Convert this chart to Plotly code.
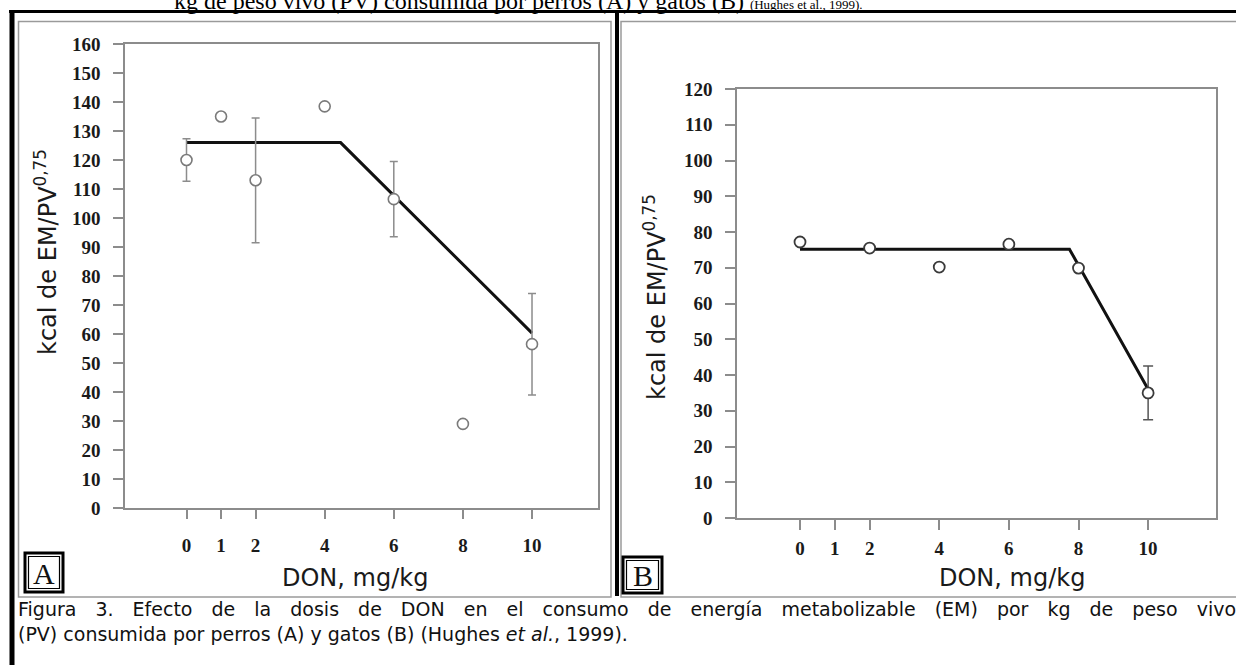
import plotly.graph_objects as go

# ---------------- data ----------------
# Panel A: dogs (perros)
dose_a = [0, 1, 2, 4, 6, 8, 10]
kcal_a = [120, 135, 113, 138.5, 106.5, 29, 56.5]
err_a = [7.3, None, 21.5, None, 13, None, 17.5]
fit_x_a = [0, 4.46, 10]
fit_y_a = [126, 126, 60.3]

# Panel B: cats (gatos)
dose_b = [0, 2, 4, 6, 8, 10]
kcal_b = [77.2, 75.5, 70.2, 76.6, 69.9, 35]
err_b = [None, None, None, None, None, 7.5]
fit_x_b = [0, 7.74, 10]
fit_y_b = [75.2, 75.2, 36]

x_ticks = [0, 1, 2, 4, 6, 8, 10]
y_ticks_a = list(range(0, 161, 10))
y_ticks_b = list(range(0, 121, 10))

x_title = "DON, mg/kg"
y_title = "kcal de EM/PV<sup>0,75</sup>"
top_text = ("kg de peso vivo (PV) consumida por perros (A) y gatos (B) "
            "<span style='font-size:13px'>(Hughes et al., 1999).</span>")
caption_1 = ("Figura 3. Efecto de la dosis de DON en el consumo de energía "
             "metabolizable (EM) por kg de peso vivo")
caption_2 = "(PV) consumida por perros (A) y gatos (B) (Hughes <i>et al.</i>, 1999)."

# ---------------- layout helpers ----------------
W, H = 1236, 665


def px(x):
    return x / W


def py(y):
    return 1 - y / H


AX_GRAY = "#8c8c8c"
TICK_FONT = dict(family="Liberation Serif", size=19, color="#1a1a1a", weight="bold")
TITLE_FONT = dict(family="DejaVu Sans", size=24, color="#1a1a1a")

fig = go.Figure()

# Panel A
fig.add_trace(go.Scatter(x=fit_x_a, y=fit_y_a, mode="lines",
                         line=dict(color="#111111", width=3),
                         xaxis="x", yaxis="y", showlegend=False, hoverinfo="skip"))
fig.add_trace(go.Scatter(x=dose_a, y=kcal_a, mode="markers",
                         marker=dict(symbol="circle", size=11, color="white",
                                     line=dict(color="#7a7a7a", width=1.6)),
                         error_y=dict(type="data", array=err_a, visible=True,
                                      color=AX_GRAY, thickness=1.5, width=4),
                         xaxis="x", yaxis="y", showlegend=False))

# Panel B
fig.add_trace(go.Scatter(x=fit_x_b, y=fit_y_b, mode="lines",
                         line=dict(color="#111111", width=3),
                         xaxis="x2", yaxis="y2", showlegend=False, hoverinfo="skip"))
fig.add_trace(go.Scatter(x=dose_b, y=kcal_b, mode="markers",
                         marker=dict(symbol="circle", size=11, color="white",
                                     line=dict(color="#3a3a3a", width=1.8)),
                         error_y=dict(type="data", array=err_b, visible=True,
                                      color="#555555", thickness=1.5, width=5),
                         xaxis="x2", yaxis="y2", showlegend=False))

common_x = dict(tickmode="array", tickvals=x_ticks, ticktext=[str(v) for v in x_ticks],
                showline=True, linecolor=AX_GRAY, linewidth=1.5, mirror=True,
                ticks="outside", tickcolor=AX_GRAY, tickwidth=1.5,
                showgrid=False, zeroline=False, tickfont=TICK_FONT, fixedrange=True)
common_y = dict(showline=True, linecolor=AX_GRAY, linewidth=1.5, mirror=True,
                ticks="outside", tickcolor=AX_GRAY, tickwidth=1.5, ticklen=10,
                showgrid=False, zeroline=False, tickfont=TICK_FONT,
                ticklabelstandoff=9, fixedrange=True)

fig.update_layout(
    width=W, height=H,
    margin=dict(l=0, r=0, t=0, b=0, pad=0, autoexpand=False),
    paper_bgcolor="white", plot_bgcolor="white",
    showlegend=False,
    xaxis=dict(common_x, domain=[px(125), px(598)], range=[-1.78, 11.91],
               anchor="y", ticklen=9, ticklabelstandoff=10),
    yaxis=dict(common_y, domain=[py(508), py(44)], range=[0, 160],
               tickvals=y_ticks_a, anchor="x"),
    xaxis2=dict(common_x, domain=[px(737), px(1216)], range=[-1.81, 11.95],
                anchor="y2", ticklen=10, ticklabelstandoff=2),
    yaxis2=dict(common_y, domain=[py(518), py(89)], range=[0, 120],
                tickvals=y_ticks_b, anchor="x2"),
)

# ---------------- frames / decoration ----------------
shapes = []
shapes.append(dict(type="rect", xref="paper", yref="paper",
                   x0=px(18.5), x1=px(611), y0=py(597), y1=py(21.5),
                   line=dict(color="#9a9a9a", width=1.5), layer="below"))
shapes.append(dict(type="rect", xref="paper", yref="paper",
                   x0=px(621), x1=px(1245), y0=py(597), y1=py(21.5),
                   line=dict(color="#9a9a9a", width=1.5), layer="below"))
shapes.append(dict(type="line", xref="paper", yref="paper",
                   x0=px(9), x1=px(1240), y0=py(11.5), y1=py(11.5),
                   line=dict(color="black", width=3)))
shapes.append(dict(type="line", xref="paper", yref="paper",
                   x0=px(12), x1=px(12), y0=py(10), y1=py(670),
                   line=dict(color="black", width=5)))
shapes.append(dict(type="line", xref="paper", yref="paper",
                   x0=px(617), x1=px(617), y0=py(11), y1=py(596),
                   line=dict(color="black", width=4)))
for (bx0, by0, bx1, by1) in [(25, 553, 63, 592), (623, 557, 662, 593)]:
    shapes.append(dict(type="rect", xref="paper", yref="paper",
                       x0=px(bx0), x1=px(bx1), y0=py(by1), y1=py(by0),
                       line=dict(color="black", width=3), fillcolor="white"))
    shapes.append(dict(type="rect", xref="paper", yref="paper",
                       x0=px(bx0 + 3.5), x1=px(bx1 - 3.5), y0=py(by1 - 3.5), y1=py(by0 + 3.5),
                       line=dict(color="black", width=1.2)))
fig.update_layout(shapes=shapes)

ann = []
ann.append(dict(xref="paper", yref="paper", x=px(172), y=py(1), xanchor="left",
                yanchor="middle", showarrow=False, text=top_text,
                font=dict(family="Liberation Serif", size=24, color="black")))
ann.append(dict(xref="paper", yref="paper", x=px(46), y=py(252), textangle=-90,
                xanchor="center", yanchor="middle", showarrow=False, text=y_title,
                font=TITLE_FONT))
ann.append(dict(xref="paper", yref="paper", x=px(655), y=py(297), textangle=-90,
                xanchor="center", yanchor="middle", showarrow=False, text=y_title,
                font=TITLE_FONT))
ann.append(dict(xref="paper", yref="paper", x=px(355), y=py(578),
                xanchor="center", yanchor="middle", showarrow=False, text=x_title,
                font=TITLE_FONT))
ann.append(dict(xref="paper", yref="paper", x=px(1012), y=py(578),
                xanchor="center", yanchor="middle", showarrow=False, text=x_title,
                font=TITLE_FONT))
ann.append(dict(xref="paper", yref="paper", x=px(44), y=py(573),
                xanchor="center", yanchor="middle", showarrow=False, text="A",
                font=dict(family="Liberation Serif", size=30, color="#111")))
ann.append(dict(xref="paper", yref="paper", x=px(642.5), y=py(575),
                xanchor="center", yanchor="middle", showarrow=False, text="B",
                font=dict(family="Liberation Serif", size=30, color="#111")))
# caption: first line is justified (wider word gaps), last line natural
ann.append(dict(xref="paper", yref="paper", x=px(16), y=py(609),
                xanchor="left", yanchor="middle", showarrow=False,
                text=f"<span style='word-spacing:13px'>{caption_1}</span>",
                font=dict(family="DejaVu Sans", size=19, color="#111")))
ann.append(dict(xref="paper", yref="paper", x=px(16), y=py(634),
                xanchor="left", yanchor="middle", showarrow=False,
                text=caption_2,
                font=dict(family="DejaVu Sans", size=19, color="#111")))
fig.update_layout(annotations=ann)

fig.write_html(
    "out.html", config={"displayModeBar": False},
    post_script=("document.documentElement.style.margin='0';"
                 "document.body.style.margin='0';document.body.style.padding='0';"
                 "document.documentElement.style.overflow='hidden';"
                 "document.body.style.overflow='hidden';"))
